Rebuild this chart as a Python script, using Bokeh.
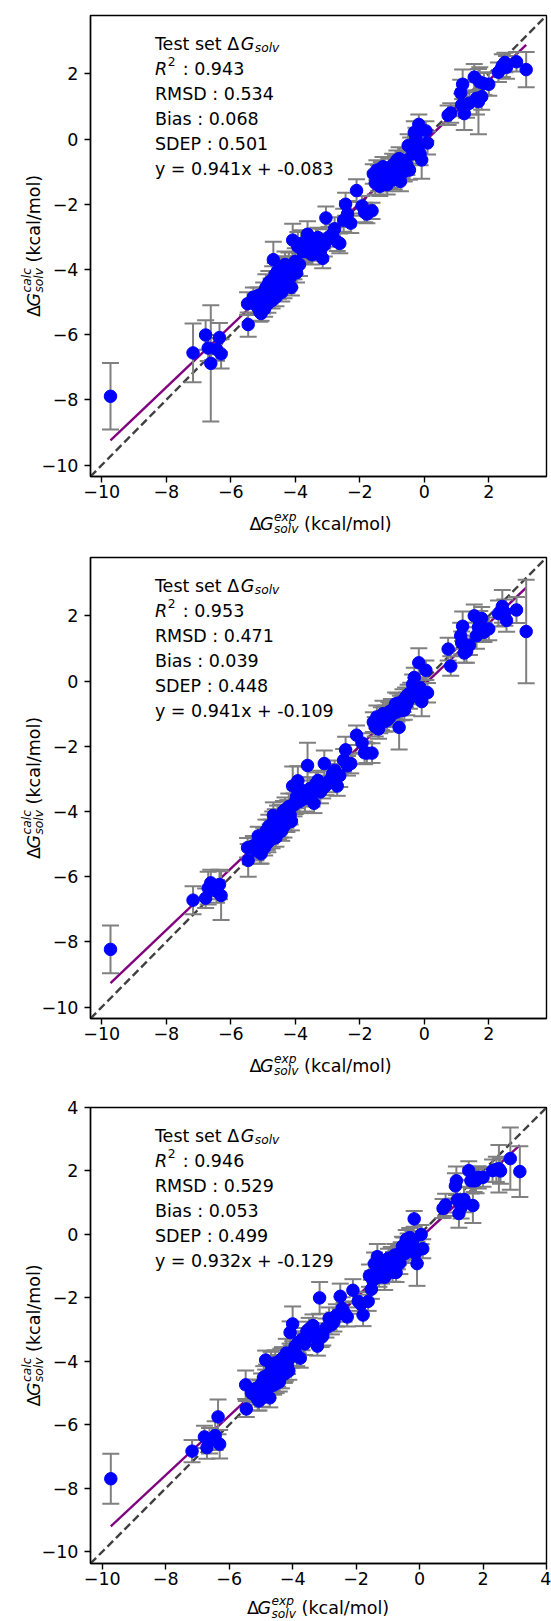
import numpy as np
from bokeh.plotting import figure
from bokeh.models import (Range1d, FixedTicker, CustomJSTickFormatter, Label, Slope,
                          ColumnDataSource, GridBox)
from bokeh.layouts import column
from bokeh.embed import file_html
from bokeh.resources import INLINE

# ---------------- data ----------------
x_exp = [
    -9.73, -7.17, -6.78, -6.70, -6.62, -6.44, -6.35, -6.30, -5.48, -5.46,
    -5.30, -5.22, -5.15, -5.10, -5.06, -5.02, -4.98, -4.95, -4.91, -4.87,
    -4.85, -4.82, -4.78, -4.75, -4.72, -4.70, -4.68, -4.65, -4.62, -4.60,
    -4.57, -4.55, -4.52, -4.50, -4.47, -4.45, -4.42, -4.40, -4.37, -4.35,
    -4.32, -4.29, -4.26, -4.23, -4.20, -4.16, -4.12, -4.08, -4.04, -4.00,
    -3.96, -3.92, -3.87, -3.82, -3.76,
    -3.70, -3.62, -3.55, -3.48, -3.42, -3.36, -3.30, -3.22, -3.15, -3.10,
    -3.05, -2.95, -2.85, -2.78, -2.70, -2.62, -2.50, -2.44, -2.38, -2.28,
    -2.10, -1.93, -1.85, -1.78, -1.62,
    -1.58, -1.52, -1.47, -1.42, -1.38, -1.33, -1.28, -1.24, -1.20, -1.15,
    -1.10, -1.06, -1.02, -0.98, -0.93, -0.89, -0.85, -0.82, -0.78, -0.74,
    -0.70, -0.66, -0.62, -0.58, -0.54, -0.50, -0.46, -0.42,
    -0.36, -0.31, -0.26, -0.21, -0.17, -0.13, -0.08, 0.05, 0.10,
    0.74, 0.82, 1.13, 1.16, 1.19, 1.24, 1.31, 1.40, 1.55, 1.62,
    1.68, 1.72, 1.78, 1.85, 2.00, 2.30, 2.42, 2.50, 2.55, 2.86, 3.16,
]

y_calc_1 = [
    -7.89, -6.56, -6.01, -6.41, -6.88, -6.45, -6.09, -6.59, -5.05, -5.69,
    -4.85, -5.10, -4.80, -5.30, -5.35, -5.00, -4.70, -5.20, -4.55, -4.85,
    -5.05, -4.40, -4.75, -4.60, -4.95, -4.30, -3.70, -4.50, -4.15, -4.85,
    -4.40, -4.05, -4.65, -4.25, -4.45, -4.10, -4.70, -4.30, -3.95, -4.50,
    -3.85, -4.20, -4.45, -4.00, -3.90, -4.25, -4.55, -3.10, -3.95, -3.75,
    -4.10, -3.30, -3.85, -3.20, -3.45,
    -3.45, -2.92, -3.30, -3.55, -3.35, -3.10, -3.02, -3.45, -3.66, -3.25,
    -2.42, -3.00, -2.92, -2.75, -3.15, -3.20, -2.49, -2.00, -2.30, -2.58,
    -1.58, -2.05, -2.25, -2.30, -2.20,
    -1.07, -1.35, -0.95, -1.20, -1.45, -1.05, -0.85, -1.30, -1.10, -1.40,
    -0.95, -1.20, -1.05, -0.80, -1.25, -0.90, -0.65, -1.05, -0.60, -1.30,
    -0.85, -0.70, -1.00, -0.65, -0.80, -0.20, -0.95, -0.25,
    -0.45, 0.20, 0.05, -0.27, 0.45, -0.45, -0.64, 0.25, -0.12,
    0.73, 0.80, 1.42, 1.05, 1.68, 0.78, 1.05, 1.10, 1.90, 1.25,
    1.15, 1.75, 1.30, 1.70, 1.68, 2.05, 2.25, 2.35, 2.20, 2.37, 2.13,
]
err_1 = [
    1.02, 0.90, 0.45, 0.40, 1.78, 0.35, 0.45, 0.45, 0.35, 0.37,
    0.30, 0.28, 0.25, 0.30, 0.22, 0.35, 0.30, 0.25, 0.40, 0.30,
    0.28, 0.35, 0.30, 0.32, 0.25, 0.40, 0.55, 0.30, 0.35, 0.28,
    0.30, 0.45, 0.25, 0.35, 0.30, 0.40, 0.28, 0.32, 0.35, 0.38,
    0.40, 0.30, 0.28, 0.35, 0.42, 0.30, 0.25, 0.50, 0.35, 0.40,
    0.30, 0.45, 0.35, 0.40, 0.30,
    0.35, 0.40, 0.30, 0.30, 0.35, 0.35, 0.30, 0.28, 0.30, 0.35,
    0.35, 0.30, 0.30, 0.35, 0.28, 0.30, 0.35, 0.35, 0.40, 0.30,
    0.35, 0.30, 0.30, 0.28, 0.25,
    0.30, 0.35, 0.30, 0.40, 0.30, 0.35, 0.30, 0.30, 0.40, 0.30,
    0.35, 0.30, 0.30, 0.35, 0.30, 0.40, 0.30, 0.30, 0.35, 0.30,
    0.35, 0.30, 0.30, 0.35, 0.30, 0.35, 0.30, 0.30,
    0.30, 0.35, 0.30, 0.30, 0.30, 0.35, 0.58, 0.30, 0.35,
    0.30, 0.30, 0.40, 0.35, 0.45, 0.50, 0.40, 0.35, 0.40, 0.50,
    1.00, 0.45, 0.40, 0.35, 0.35, 0.30, 0.35, 0.30, 0.35, 0.30, 0.54,
]

y_calc_2 = [
    -8.23, -6.72, -6.66, -6.35, -6.19, -6.45, -6.24, -6.58, -5.11, -5.50,
    -5.05, -5.20, -4.75, -5.25, -5.30, -4.95, -4.80, -5.10, -4.60, -4.90,
    -4.95, -4.45, -4.70, -4.55, -4.85, -4.35, -4.12, -4.60, -4.25, -4.80,
    -4.45, -4.20, -4.60, -4.30, -4.50, -4.15, -4.60, -4.25, -4.00, -4.45,
    -3.95, -4.20, -4.35, -4.00, -3.85, -4.10, -4.30, -3.22, -3.80, -3.70,
    -3.55, -3.06, -3.70, -3.35, -3.50,
    -3.60, -2.59, -3.30, -3.45, -3.75, -3.15, -3.05, -3.40, -3.30, -2.53,
    -3.20, -3.06, -2.85, -2.74, -3.22, -2.90, -2.43, -2.11, -2.60, -2.53,
    -1.66, -1.90, -2.20, -2.21, -2.21,
    -1.26, -1.40, -1.10, -1.47, -1.30, -1.15, -1.00, -1.25, -1.05, -1.20,
    -0.95, -1.10, -0.90, -1.00, -0.85, -0.70, -0.95, -0.68, -1.42, -0.75,
    -0.90, -0.60, -0.89, -0.50, -0.70, -0.41, -0.55, -0.35,
    -0.10, 0.11, -0.25, -0.40, 0.56, -0.20, -0.63, 0.33, -0.36,
    0.98, 0.46, 1.39, 1.17, 1.68, 0.86, 0.91, 1.10, 2.00, 1.39,
    1.65, 1.75, 1.92, 1.50, 1.60, 2.07, 2.29, 2.10, 1.86, 2.18, 1.52,
]
err_2 = [
    0.73, 0.43, 0.30, 0.50, 0.40, 0.35, 0.45, 0.75, 0.30, 0.50,
    0.30, 0.30, 0.28, 0.35, 0.30, 0.32, 0.30, 0.25, 0.35, 0.28,
    0.30, 0.35, 0.30, 0.30, 0.28, 0.35, 0.40, 0.30, 0.32, 0.28,
    0.30, 0.38, 0.25, 0.30, 0.30, 0.35, 0.30, 0.30, 0.32, 0.35,
    0.38, 0.30, 0.28, 0.35, 0.40, 0.30, 0.28, 0.60, 0.35, 0.38,
    0.35, 0.45, 0.35, 0.40, 0.30,
    0.40, 0.70, 0.35, 0.40, 0.30, 0.35, 0.30, 0.35, 0.30, 0.40,
    0.30, 0.35, 0.30, 0.30, 0.30, 0.35, 0.35, 0.40, 0.30, 0.30,
    0.30, 0.30, 0.35, 0.30, 0.30,
    0.30, 0.30, 0.35, 0.30, 0.30, 0.35, 0.40, 0.30, 0.30, 0.35,
    0.30, 0.30, 0.35, 0.30, 0.30, 0.35, 0.30, 0.30, 0.68, 0.30,
    0.30, 0.35, 0.30, 0.30, 0.35, 0.30, 0.30, 0.30,
    0.30, 0.30, 0.35, 0.30, 0.45, 0.30, 0.45, 0.30, 0.30,
    0.35, 0.30, 0.40, 0.35, 0.45, 0.30, 0.35, 0.30, 0.35, 0.40,
    0.35, 0.40, 0.35, 0.30, 0.35, 0.40, 0.50, 0.40, 0.35, 0.40, 1.59,
]

y_calc_3 = [
    -7.70, -6.83, -6.38, -6.72, -6.50, -6.34, -5.75, -6.61, -4.74, -5.50,
    -5.00, -5.05, -4.85, -5.20, -5.25, -4.90, -4.70, -5.15, -4.50, -4.80,
    -3.96, -4.45, -4.85, -4.60, -5.15, -4.35, -4.10, -4.60, -4.20, -4.75,
    -4.40, -4.05, -4.70, -4.25, -4.50, -4.15, -4.65, -4.30, -3.95, -4.45,
    -3.90, -4.20, -4.40, -4.28, -3.74, -4.10, -4.30, -3.09, -3.85, -2.82,
    -3.65, -3.52, -3.80, -3.40, -3.90,
    -3.30, -3.45, -3.05, -2.98, -3.20, -2.87, -3.10, -3.52, -2.00, -3.25,
    -3.20, -2.95, -2.65, -2.85, -2.76, -2.55, -1.95, -2.33, -2.45, -2.60,
    -1.76, -2.11, -2.20, -2.54, -2.11,
    -1.30, -1.73, -1.45, -0.92, -1.20, -0.70, -1.35, -1.05, -1.25, -1.10,
    -1.35, -0.95, -1.15, -0.75, -1.00, -0.75, -1.19, -0.85, -0.65, -1.20,
    -0.80, -0.65, -0.90, -0.55, -0.37, -0.45, -0.60, -0.16,
    -0.27, -0.10, -0.40, -0.20, 0.49, -0.60, -0.92, 0.00, -0.45,
    0.82, 0.93, 1.53, 1.69, 1.09, 0.66, 0.85, 1.10, 2.01, 1.69,
    0.91, 1.69, 1.70, 1.80, 1.80, 2.01, 2.05, 2.07, 2.00, 2.39, 1.98,
]
err_3 = [
    0.79, 0.35, 0.35, 0.35, 0.40, 0.45, 0.55, 0.45, 0.45, 0.25,
    0.30, 0.32, 0.28, 0.35, 0.30, 0.30, 0.32, 0.28, 0.35, 0.30,
    0.30, 0.35, 0.30, 0.28, 0.30, 0.35, 0.40, 0.30, 0.35, 0.30,
    0.28, 0.40, 0.30, 0.32, 0.30, 0.35, 0.30, 0.30, 0.35, 0.40,
    0.35, 0.30, 0.28, 0.35, 0.45, 0.30, 0.28, 0.35, 0.35, 0.55,
    0.35, 0.40, 0.35, 0.35, 0.30,
    0.35, 0.35, 0.30, 0.35, 0.30, 0.35, 0.30, 0.30, 0.50, 0.30,
    0.30, 0.30, 0.35, 0.30, 0.30, 0.35, 0.40, 0.35, 0.30, 0.30,
    0.35, 0.30, 0.30, 0.35, 0.30,
    0.35, 0.30, 0.30, 0.35, 0.30, 0.40, 0.30, 0.35, 0.30, 0.30,
    0.40, 0.30, 0.35, 0.30, 0.30, 0.35, 0.30, 0.30, 0.35, 0.30,
    0.30, 0.30, 0.35, 0.30, 0.30, 0.35, 0.30, 0.30,
    0.30, 0.30, 0.35, 0.30, 0.25, 0.30, 0.70, 0.30, 0.30,
    0.30, 0.35, 0.40, 0.45, 0.40, 0.45, 0.35, 0.40, 0.30, 0.40,
    0.55, 0.35, 0.40, 0.35, 0.30, 0.35, 0.40, 0.75, 0.40, 0.98, 0.80,
]

r2_values = ["0.943", "0.953", "0.946"]
rmsd_values = ["0.534", "0.471", "0.529"]
bias_values = ["0.068", "0.039", "0.053"]
sdep_values = ["0.501", "0.448", "0.499"]
fit_slopes = [0.941, 0.941, 0.932]
fit_intercepts = [-0.083, -0.109, -0.129]
tick_labels_12 = [-10, -8, -6, -4, -2, 0, 2]
tick_labels_3 = [-10, -8, -6, -4, -2, 0, 2, 4]

y_series = [y_calc_1, y_calc_2, y_calc_3]
err_series = [err_1, err_2, err_3]

# ---------------- layout helpers ----------------
FONT = "DejaVu Sans"
FS = 17.5
SS = 12.25
PAGE_W, PAGE_H = 551, 1621
ADV = {' ': 0.318, '(': 0.390, ')': 0.390, '-': 0.361, '.': 0.318, '/': 0.337,
       ':': 0.337, '=': 0.838, '+': 0.838, 'B': 0.686, 'D': 0.770, 'E': 0.632,
       'G': 0.776, 'M': 0.863, 'P': 0.603, 'R': 0.695, 'S': 0.635, 'T': 0.611,
       'a': 0.613, 'c': 0.550, 'e': 0.615, 'i': 0.278, 'k': 0.579, 'l': 0.278,
       'm': 0.974, 'o': 0.612, 'p': 0.635, 's': 0.521, 't': 0.392, 'v': 0.592,
       'x': 0.592, 'y': 0.592, '\u0394': 0.60}


def text_width(t, size):
    return sum(ADV.get(c, 0.636) for c in t) * size


def rich_width(pieces):
    return sum(text_width(t, s) + extra for t, s, it, sh, adv, extra in pieces if adv)


def place_rich(p, pieces, x0, y0, vertical=False, units="screen"):
    pos = 0.0
    for t, size, italic, shift, adv, extra in pieces:
        stripped = t.lstrip(" ")
        lead = text_width(t[:len(t) - len(stripped)], size)
        if vertical:
            lx, ly, ang = x0 - shift, y0 + pos + lead, np.pi / 2
        else:
            lx, ly, ang = x0 + pos + lead, y0 + shift, 0.0
        p.add_layout(Label(x=lx, y=ly, x_units=units, y_units=units, text=stripped,
                           angle=ang, text_font=FONT, text_font_size=f"{size}px",
                           text_font_style="italic" if italic else "normal",
                           text_color="black", text_align="left",
                           text_baseline="alphabetic"))
        if adv:
            pos += text_width(t, size) + extra


# square frames, as in the reference
panel_cfg = [
    dict(top=0, h=540, bl=90, br=1, bt=15, bb=64, lo=-10.35, hi=3.79,
         ticks=tick_labels_12, xlab=47.0),
    dict(top=540, h=540, bl=90, br=1, bt=17, bb=62, lo=-10.35, hi=3.79,
         ticks=tick_labels_12, xlab=47.0),
    dict(top=1080, h=541, bl=89, br=5, bt=27, bb=58, lo=-10.37, hi=4.0,
         ticks=tick_labels_3, xlab=44.5),
]

fmt_code = "return (tick < 0 ? '\\u2212' : '') + Math.abs(tick).toFixed(0);"

# transparent overlay carrying the axis titles (page coordinates, y up)
overlay = figure(width=PAGE_W, height=PAGE_H, output_backend="svg", toolbar_location=None,
                 x_range=Range1d(0, PAGE_W), y_range=Range1d(0, PAGE_H),
                 x_axis_location=None, y_axis_location=None, min_border=0,
                 background_fill_color=None, border_fill_color=None,
                 outline_line_color=None)
overlay.grid.visible = False

figs = []
for i in range(3):
    cfg = panel_cfg[i]
    fw = PAGE_W - cfg["bl"] - cfg["br"]
    fh = cfg["h"] - cfg["bt"] - cfg["bb"]
    p = figure(width=PAGE_W, height=cfg["h"], output_backend="svg", toolbar_location=None,
               x_range=Range1d(cfg["lo"], cfg["hi"]), y_range=Range1d(cfg["lo"], cfg["hi"]),
               min_border_left=cfg["bl"], min_border_right=cfg["br"],
               min_border_top=cfg["bt"], min_border_bottom=cfg["bb"])
    p.xgrid.grid_line_color = None
    p.ygrid.grid_line_color = None
    p.outline_line_color = "black"
    p.outline_line_width = 1.4
    p.outline_line_alpha = 1.0
    p.background_fill_color = None
    p.border_fill_color = None
    for ax in (p.xaxis[0], p.yaxis[0]):
        ax.ticker = FixedTicker(ticks=cfg["ticks"])
        ax.formatter = CustomJSTickFormatter(code=fmt_code)
        ax.axis_line_color = "black"
        ax.axis_line_width = 1.4
        ax.major_tick_out = 6
        ax.major_tick_in = 0
        ax.major_tick_line_width = 1.4
        ax.major_tick_line_color = "black"
        ax.minor_tick_line_color = None
        ax.major_label_text_font = FONT
        ax.major_label_text_font_size = f"{FS}px"
        ax.major_label_text_color = "black"
    p.xaxis[0].major_label_standoff = 2
    p.yaxis[0].major_label_standoff = 6

    xs = np.array(x_exp)
    ys = np.array(y_series[i])
    es = np.array(err_series[i])
    src = ColumnDataSource(dict(x=xs, y=ys, lo=ys - es, hi=ys + es))

    p.add_layout(Slope(gradient=1, y_intercept=0, line_color="#404040", line_width=2.4,
                       line_dash="8 4", level="underlay"))
    fx = np.array([xs.min(), xs.max()])
    p.line(fx, fit_slopes[i] * fx + fit_intercepts[i], line_color="#800080", line_width=2.4)
    p.segment(x0="x", y0="lo", x1="x", y1="hi", source=src, line_color="#808080", line_width=2)
    p.scatter(x="x", y="lo", source=src, marker="dash", size=17, line_color="#808080", line_width=2)
    p.scatter(x="x", y="hi", source=src, marker="dash", size=17, line_color="#808080", line_width=2)
    p.scatter(x="x", y="y", source=src, marker="circle", size=12.5,
              fill_color="#0000ff", line_color="#0000ff")

    # stats annotation (inside the frame)
    ax0 = 64.4
    by = fh - 28.8
    lh = 24.9
    place_rich(p, [("Test set \u0394", FS, False, 0, True, 0), ("G", FS, True, 0, True, 0.5),
                   ("solv", SS, True, -3.5, True, 0)], ax0, by)
    place_rich(p, [("R", FS, True, 0, True, 0.8), ("2", SS, False, 7.7, True, 1.5),
                   (f" : {r2_values[i]}", FS, False, 0, True, 0)], ax0, by - lh)
    place_rich(p, [(f"RMSD : {rmsd_values[i]}", FS, False, 0, True, 0)], ax0, by - 2 * lh)
    place_rich(p, [(f"Bias : {bias_values[i]}", FS, False, 0, True, 0)], ax0, by - 3 * lh)
    place_rich(p, [(f"SDEP : {sdep_values[i]}", FS, False, 0, True, 0)], ax0, by - 4 * lh)
    place_rich(p, [(f"y = {fit_slopes[i]:.3f}x + {fit_intercepts[i]:.3f}", FS, False, 0, True, 0)],
               ax0, by - 5 * lh)

    # axis titles on the overlay, in page coordinates
    f_left = cfg["bl"]
    f_right = PAGE_W - cfg["br"]
    f_top = cfg["top"] + cfg["bt"]
    f_bot = cfg["top"] + cfg["h"] - cfg["bb"]
    xl = [("\u0394", FS, False, 0, True, 0), ("G", FS, True, 0, True, 0.5),
          ("exp", SS, True, 7.0, False, 0), ("solv", SS, True, -5.5, True, 0),
          (" (kcal/mol)", FS, False, 0, True, 0)]
    place_rich(overlay, xl, (f_left + f_right) / 2 - rich_width(xl) / 2,
               PAGE_H - (f_bot + cfg["xlab"]), units="data")
    yl = [("\u0394", FS, False, 0, True, 0), ("G", FS, True, 0, True, 0.5),
          ("calc", SS, True, 7.0, False, 0), ("solv", SS, True, -5.5, True, 0),
          (" (kcal/mol)", FS, False, 0, True, 0)]
    place_rich(overlay, yl, 33.3, PAGE_H - (f_top + f_bot) / 2 - rich_width(yl) / 2,
               vertical=True, units="data")

    figs.append(p)

stack = column(*figs)
page = GridBox(children=[(stack, 0, 0), (overlay, 0, 0)])
open("out.html", "w").write(file_html(page, INLINE))
